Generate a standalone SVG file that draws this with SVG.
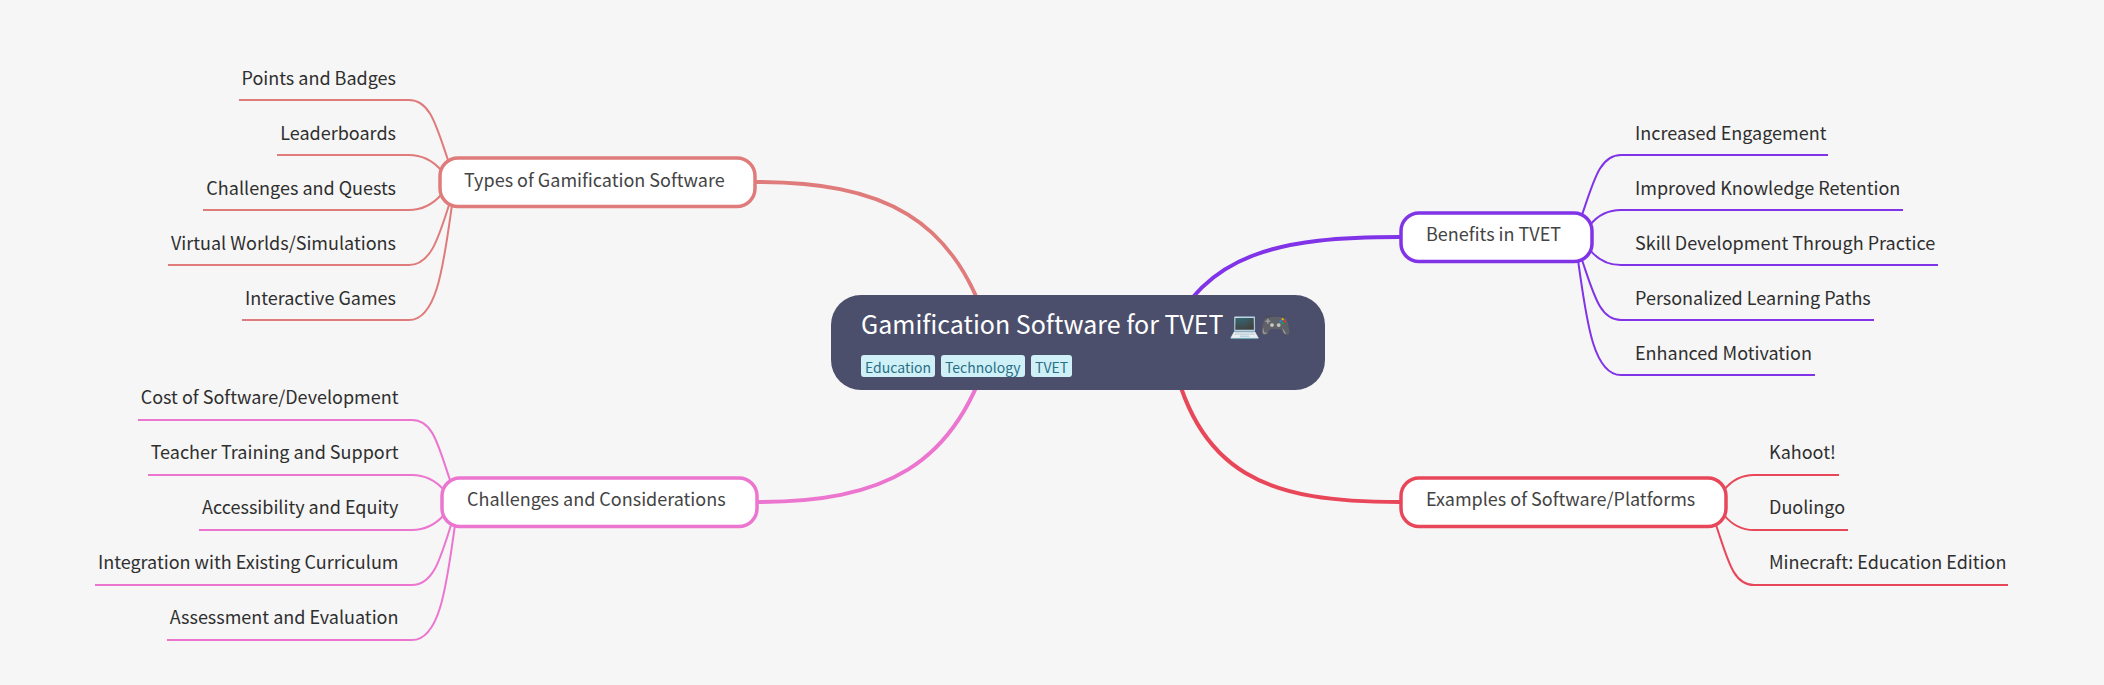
<svg xmlns="http://www.w3.org/2000/svg" width="2104" height="685" viewBox="0 0 2104 685">
<style>
text{font-family:"Noto Sans CJK SC","Noto Sans","Liberation Sans",sans-serif}
.leaf{font-size:18px;fill:#2f2f2f}
.end{text-anchor:end}
.sub{font-size:18px;fill:#444}
.box{fill:#fff;stroke-width:3.5}
.main{fill:none;stroke-width:4}
.thin{fill:none;stroke-width:2}
.tag{fill:#d0f0f8}
.tagt{font-size:14px;fill:#276f86}
.a{stroke:#e07b7b}.b{stroke:#ec75d0}.c{stroke:#8133e8}.d{stroke:#e8475a}
</style>
<rect width="2104" height="685" fill="#f6f6f6"/>
<g id="connectors">
<path class="main a" d="M755,182 C880,182 958,215 992,342"/>
<path class="main b" d="M757,502 C880,502 958,469 992,342"/>
<path class="main c" d="M1400,237 C1280,237 1205,252 1165,342"/>
<path class="main d" d="M1400,502 C1270,502 1195,478 1169,342"/>
<g class="a thin">
<path d="M239,100 H409 C430,100 436,125 448,160"/>
<path d="M277,155 H409 C422,155 432,160 441,170"/>
<path d="M203,210 H409 C422,210 432,205 441,195"/>
<path d="M168,265 H409 C430,265 438,240 449,205"/>
<path d="M242,320 H409 C438,320 444,260 452,205"/>
</g>
<g class="b thin">
<path d="M138,420 H412 C433,420 438,445 450,480"/>
<path d="M148,475 H412 C425,475 435,480 444,490"/>
<path d="M199,530 H412 C425,530 435,525 444,515"/>
<path d="M95,585 H412 C433,585 440,560 451,525"/>
<path d="M167,640 H412 C441,640 447,580 455,525"/>
</g>
<g class="c thin">
<path d="M1828,155 H1621 C1600,155 1594,180 1582,215"/>
<path d="M1903,210 H1621 C1608,210 1598,215 1590,225"/>
<path d="M1938,265 H1621 C1608,265 1598,260 1590,250"/>
<path d="M1874,320 H1621 C1600,320 1594,295 1582,260"/>
<path d="M1815,375 H1621 C1592,375 1586,315 1578,260"/>
</g>
<g class="d thin">
<path d="M1839,475 H1754 C1741,475 1732,480 1724,490"/>
<path d="M1848,530 H1754 C1741,530 1732,525 1724,515"/>
<path d="M2008,585 H1754 C1733,585 1728,560 1716,525"/>
</g>
</g>
<g id="root">
<rect x="831" y="295" width="494" height="95" rx="30" fill="#4c4f6b"/>
<text x="861" y="334" font-size="25" fill="#fff">Gamification Software for TVET 💻🎮</text>
<rect class="tag" x="861" y="355" width="74" height="22" rx="3"/>
<text class="tagt" x="865" y="372.5">Education</text>
<rect class="tag" x="941" y="355" width="84" height="22" rx="3"/>
<text class="tagt" x="945" y="372.5">Technology</text>
<rect class="tag" x="1031" y="355" width="41" height="22" rx="3"/>
<text class="tagt" x="1035" y="372.5">TVET</text>
</g>
<g id="types"><rect class="box a" x="440" y="158" width="315" height="48.5" rx="18"/><text class="sub" x="464" y="186.5">Types of Gamification Software</text></g>
<g id="challenges"><rect class="box b" x="442" y="478" width="315" height="48.5" rx="18"/><text class="sub" x="467" y="506">Challenges and Considerations</text></g>
<g id="benefits"><rect class="box c" x="1401" y="213" width="191" height="48.5" rx="18"/><text class="sub" x="1426" y="241">Benefits in TVET</text></g>
<g id="examples"><rect class="box d" x="1401" y="478" width="325" height="48.5" rx="18"/><text class="sub" x="1426" y="506">Examples of Software/Platforms</text></g>
<g id="types-leaves">
<text class="leaf end" x="396" y="84.5">Points and Badges</text>
<text class="leaf end" x="396" y="139.5">Leaderboards</text>
<text class="leaf end" x="396" y="194.5">Challenges and Quests</text>
<text class="leaf end" x="396" y="249.5">Virtual Worlds/Simulations</text>
<text class="leaf end" x="396" y="304.5">Interactive Games</text>
</g>
<g id="challenge-leaves">
<text class="leaf end" x="398.5" y="404">Cost of Software/Development</text>
<text class="leaf end" x="398.5" y="459">Teacher Training and Support</text>
<text class="leaf end" x="398.5" y="514">Accessibility and Equity</text>
<text class="leaf end" x="398.5" y="569">Integration with Existing Curriculum</text>
<text class="leaf end" x="398.5" y="624">Assessment and Evaluation</text>
</g>
<g id="benefit-leaves">
<text class="leaf" x="1635" y="139.5">Increased Engagement</text>
<text class="leaf" x="1635" y="194.5">Improved Knowledge Retention</text>
<text class="leaf" x="1635" y="249.5">Skill Development Through Practice</text>
<text class="leaf" x="1635" y="304.5">Personalized Learning Paths</text>
<text class="leaf" x="1635" y="359.5">Enhanced Motivation</text>
</g>
<g id="example-leaves">
<text class="leaf" x="1769" y="459">Kahoot!</text>
<text class="leaf" x="1769" y="514">Duolingo</text>
<text class="leaf" x="1769" y="569">Minecraft: Education Edition</text>
</g>
</svg>
